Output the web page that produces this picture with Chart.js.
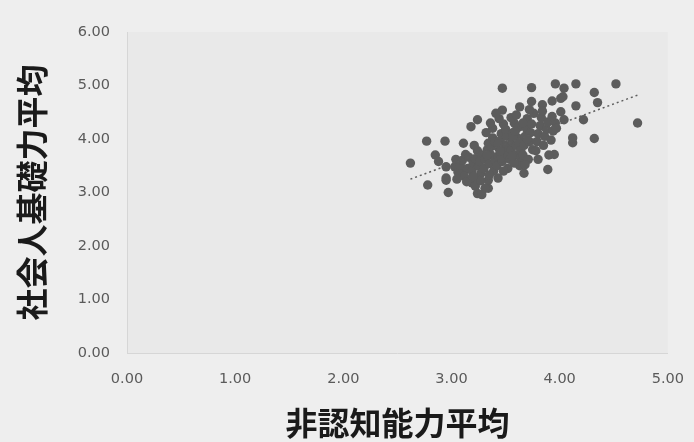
<!DOCTYPE html>
<html>
<head>
<meta charset="utf-8">
<script src="https://cdn.jsdelivr.net/npm/chart.js@4.4.1/dist/chart.umd.min.js"></script>
<style>
  body { margin: 0; background: #eeeeee; }
  #grafico { display: block; }
</style>
</head>
<body>
<canvas id="grafico" width="694" height="442"></canvas>
<script>
// 非認知能力平均 (x) / 社会人基礎力平均 (y)
const xValues = [
  3.47, 3.74, 3.96, 4.04, 4.15, 4.52, 4.32, 4.35, 4.15, 4.01, 3.93, 3.84, 3.74, 3.63, 3.47,
  4.01, 4.22, 4.72, 3.24, 3.18, 4.12, 4.32, 3.95, 3.89, 2.77, 2.94, 2.62, 2.78, 2.97, 3.24,
  3.34, 3.43, 3.67, 3.64, 2.85, 2.95, 2.88, 2.95, 2.95, 3.11, 3.03, 3.12, 3.34, 3.31, 3.28,
  4.03, 4.04, 4.12,
  3.06, 3.08, 3.10, 3.13, 3.15, 3.12, 3.16, 3.04,
  3.19, 3.20, 3.22, 3.24, 3.25, 3.27, 3.21, 3.28, 3.26, 3.23, 3.19,
  3.30, 3.31, 3.33, 3.34, 3.35, 3.36, 3.38, 3.39, 3.37, 3.32, 3.40, 3.35, 3.38, 3.33, 3.40,
  3.42, 3.43, 3.44, 3.45, 3.46, 3.47, 3.48, 3.49, 3.50, 3.51, 3.52, 3.44, 3.46, 3.50, 3.43, 3.48, 3.52, 3.45,
  3.54, 3.55, 3.56, 3.57, 3.58, 3.59, 3.60, 3.61, 3.62, 3.63, 3.55, 3.58, 3.60, 3.64, 3.56, 3.62, 3.57, 3.59,
  3.66, 3.67, 3.68, 3.69, 3.70, 3.71, 3.72, 3.73, 3.74, 3.75, 3.76, 3.68, 3.70, 3.72, 3.66,
  3.78, 3.79, 3.80, 3.82, 3.83, 3.85, 3.86, 3.88, 3.90, 3.80, 3.84, 3.89,
  3.92, 3.94, 3.96, 3.93, 3.97,
  3.41, 3.36, 3.05, 3.14, 3.22, 3.27, 3.20
];
const yValues = [
  4.95, 4.96, 5.03, 4.95, 5.03, 5.03, 4.87, 4.68, 4.62, 4.76, 4.71, 4.64, 4.70, 4.60, 4.54,
  4.51, 4.36, 4.30, 4.36, 4.23, 3.93, 4.01, 3.71, 3.43, 3.96, 3.96, 3.55, 3.14, 3.00, 2.98,
  3.08, 3.27, 3.36, 3.58, 3.70, 3.27, 3.58, 3.48, 3.23, 3.92, 3.48, 3.42, 3.23, 3.08, 2.96,
  4.79, 4.36, 4.02,
  3.38, 3.52, 3.60, 3.71, 3.45, 3.30, 3.66, 3.62,
  3.40, 3.55, 3.63, 3.78, 3.49, 3.35, 3.88, 3.70, 3.58, 3.26, 3.18,
  3.45, 3.62, 3.80, 3.92, 3.54, 3.71, 4.02, 3.40, 3.86, 4.12, 3.60, 3.33, 4.20, 3.70, 3.95,
  3.50, 3.68, 3.82, 3.97, 4.10, 3.58, 4.28, 3.75, 3.88, 4.05, 3.45, 4.38, 3.65, 4.18, 3.90, 3.40, 3.70, 3.78,
  3.62, 3.80, 3.95, 4.12, 4.30, 3.70, 3.88, 4.02, 4.22, 3.50, 4.40, 3.55, 4.45, 3.78, 3.68, 3.95, 4.05, 4.15,
  3.70, 3.88, 4.05, 4.20, 4.38, 3.62, 3.95, 4.12, 4.28, 3.80, 4.48, 3.52, 4.00, 4.55, 4.30,
  3.78, 3.95, 4.10, 4.25, 4.40, 3.88, 4.05, 4.18, 3.70, 3.62, 4.52, 4.32,
  3.98, 4.15, 4.30, 4.42, 4.20,
  4.48, 4.30, 3.25, 3.20, 3.12, 3.22, 3.30
];

// dotted trend line, ends
const trendX = [2.62, 4.72];
const trendY = [3.25, 4.82];

const xTickLabels = ['0.00', '1.00', '2.00', '3.00', '4.00', '5.00'];
const yTickLabels = ['0.00', '1.00', '2.00', '3.00', '4.00', '5.00', '6.00'];

const xTitle = '非認知能力平均';
const yTitle = '社会人基礎力平均';

const pontos = xValues.map((x, i) => ({ x: x, y: yValues[i] }));
const tendencia = trendX.map((x, i) => ({ x: x, y: trendY[i] }));

// background for canvas and plot area
const fundo = {
    id: 'fundo',
    beforeDraw(chart) {
        const { ctx, chartArea } = chart;
        ctx.save();
        ctx.fillStyle = '#eeeeee';
        ctx.fillRect(0, 0, chart.width, chart.height);
        ctx.fillStyle = '#e9e9e9';
        ctx.fillRect(chartArea.left, chartArea.top, chartArea.right - chartArea.left, chartArea.bottom - chartArea.top);
        ctx.restore();
    }
};

const tickFont = { family: '"DejaVu Sans", sans-serif', size: 14.5 };
const titleFont = { family: '"Noto Sans CJK JP", sans-serif', size: 32, weight: 'bold' };

const ctx = document.getElementById('grafico').getContext('2d');
const grafico = new Chart(ctx, {
    type: 'scatter',
    data: {
        datasets: [{
            label: 'data',
            data: pontos,
            backgroundColor: '#5c5c5c',
            borderWidth: 0,
            pointRadius: 4.7,
            order: 2
        }, {
            type: 'line',
            label: 'trend',
            data: tendencia,
            borderColor: '#5e5e5e',
            borderWidth: 1.5,
            borderDash: [2, 3],
            pointRadius: 0,
            fill: false,
            order: 1
        }]
    },
    options: {
        responsive: false,
        animation: false,
        layout: { padding: { top: 32, right: 16, bottom: 0, left: 0 } },
        plugins: {
            legend: { display: false },
            tooltip: { enabled: false }
        },
        scales: {
            x: {
                type: 'linear',
                min: 0,
                max: 5,
                afterFit: (scale) => { scale.height = 89; },
                grid: { display: false },
                border: { display: true, color: '#d6d6d6' },
                ticks: {
                    stepSize: 1,
                    padding: 10,
                    color: '#5a5a5a',
                    font: tickFont,
                    callback: (v, i) => xTickLabels[i]
                },
                title: {
                    display: true,
                    text: xTitle,
                    color: '#1a1a1a',
                    font: titleFont,
                    padding: { top: 0, bottom: 0 }
                }
            },
            y: {
                type: 'linear',
                min: 0,
                max: 6,
                afterFit: (scale) => { scale.width = 127; },
                grid: { display: false },
                border: { display: true, color: '#d6d6d6' },
                ticks: {
                    stepSize: 1,
                    padding: 9,
                    color: '#5a5a5a',
                    font: tickFont,
                    callback: (v, i) => yTickLabels[i]
                },
                title: {
                    display: true,
                    text: yTitle,
                    color: '#1a1a1a',
                    font: titleFont,
                    padding: { top: 13, bottom: 0 }
                }
            }
        }
    },
    plugins: [fundo]
});
</script>
</body>
</html>
